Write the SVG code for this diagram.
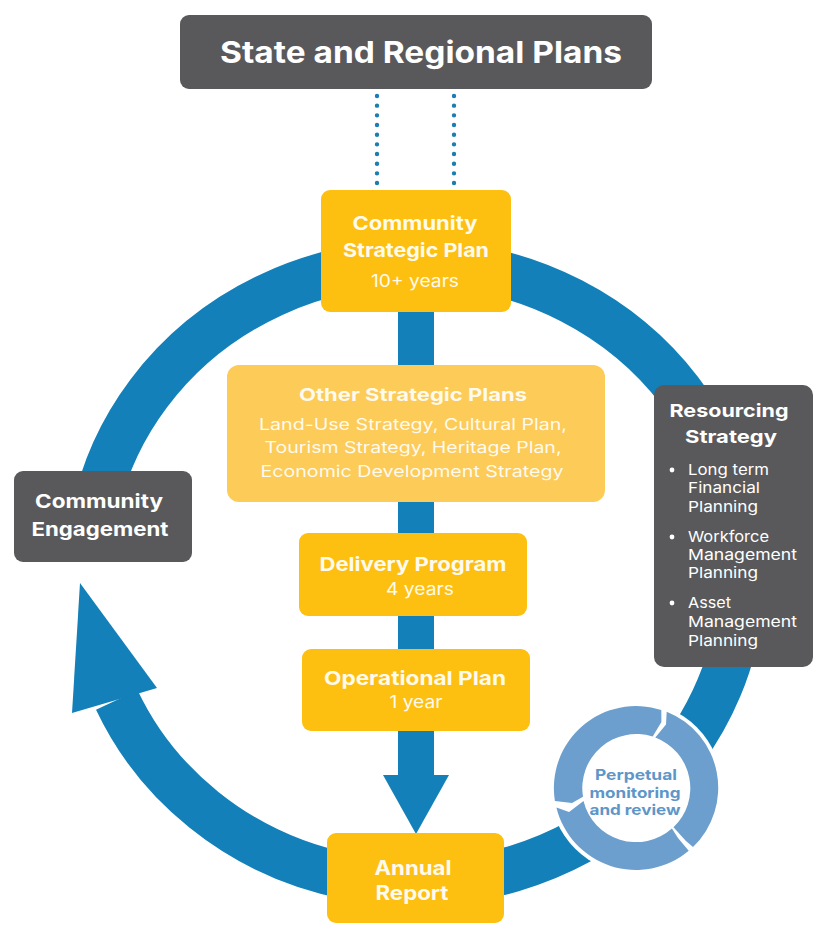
<svg xmlns="http://www.w3.org/2000/svg" width="836" height="939" viewBox="0 0 836 939">
<defs>
<style>
.t{font-family:Inter,"Open Sans","Liberation Sans",sans-serif;text-anchor:middle;}
.b{font-weight:700;}
.w{fill:#FFFAEE;}
.dark{fill:#59595B;}
.yel{fill:#FEC010;}
.lyel{fill:#FCCB58;}
.blue{fill:#1380B9;}
.pb{fill:#6C9FCD;}
.lst{font-family:Inter,"Open Sans","Liberation Sans",sans-serif;font-size:15px;fill:#FFFFFF;}
</style>
</defs>
<rect width="836" height="939" fill="#FFFFFF"/>

<g id="connectors">
  <path d="M 93 520 A 327 310 0 1 1 116.8 700" fill="none" stroke="#1380B9" stroke-width="46"/>
  <polygon class="blue" points="80,583 157,688 72,713"/>
  <rect class="blue" x="398" y="300" width="36" height="476"/>
  <polygon class="blue" points="383,775 449,775 416,834"/>
  <line x1="377" y1="96" x2="377" y2="184" stroke="#1C7DB0" stroke-width="4.4" stroke-linecap="round" stroke-dasharray="0 9.67"/>
  <line x1="454" y1="96" x2="454" y2="184" stroke="#1C7DB0" stroke-width="4.4" stroke-linecap="round" stroke-dasharray="0 9.67"/>
</g>

<g id="state-regional-plans">
  <rect class="dark" x="180" y="15" width="472" height="74" rx="9"/>
  <text class="t b" x="421" y="63" font-size="30" fill="#FFFFFF" textLength="402" lengthAdjust="spacingAndGlyphs">State and Regional Plans</text>
</g>

<g id="community-strategic-plan">
  <rect class="yel" x="321" y="190" width="190" height="122" rx="9"/>
  <text class="t b w" x="415" y="230" font-size="19" textLength="125" lengthAdjust="spacingAndGlyphs">Community</text>
  <text class="t b w" x="416" y="257" font-size="19" textLength="146" lengthAdjust="spacingAndGlyphs">Strategic Plan</text>
  <text class="t w" x="415" y="287" font-size="17" textLength="88" lengthAdjust="spacingAndGlyphs">10+ years</text>
</g>

<g id="other-strategic-plans">
  <rect class="lyel" x="227" y="365" width="378" height="137" rx="12"/>
  <text class="t b w" x="413" y="401" font-size="18" textLength="228" lengthAdjust="spacingAndGlyphs">Other Strategic Plans</text>
  <text class="t w" x="413" y="430" font-size="16" textLength="308" lengthAdjust="spacingAndGlyphs">Land-Use Strategy, Cultural Plan,</text>
  <text class="t w" x="413" y="453" font-size="16" textLength="297" lengthAdjust="spacingAndGlyphs">Tourism Strategy, Heritage Plan,</text>
  <text class="t w" x="412" y="477" font-size="16" textLength="303" lengthAdjust="spacingAndGlyphs">Economic Development Strategy</text>
</g>

<g id="delivery-program">
  <rect class="yel" x="299" y="533" width="228" height="83" rx="9"/>
  <text class="t b w" x="413" y="571" font-size="19" textLength="187" lengthAdjust="spacingAndGlyphs">Delivery Program</text>
  <text class="t w" x="420" y="595" font-size="17" textLength="68" lengthAdjust="spacingAndGlyphs">4 years</text>
</g>

<g id="operational-plan">
  <rect class="yel" x="302" y="649" width="228" height="82" rx="9"/>
  <text class="t b w" x="415" y="685" font-size="19" textLength="182" lengthAdjust="spacingAndGlyphs">Operational Plan</text>
  <text class="t w" x="416" y="708" font-size="17" textLength="53" lengthAdjust="spacingAndGlyphs">1 year</text>
</g>

<g id="annual-report">
  <rect class="yel" x="327" y="833" width="177" height="90" rx="9"/>
  <text class="t b w" x="413" y="875" font-size="20" textLength="77" lengthAdjust="spacingAndGlyphs">Annual</text>
  <text class="t b w" x="412" y="900" font-size="20" textLength="73" lengthAdjust="spacingAndGlyphs">Report</text>
</g>

<g id="community-engagement">
  <rect class="dark" x="14" y="471" width="178" height="91" rx="9"/>
  <text class="t b" x="99" y="508" font-size="19" fill="#FFFFFF" textLength="128" lengthAdjust="spacingAndGlyphs">Community</text>
  <text class="t b" x="100" y="536" font-size="19" fill="#FFFFFF" textLength="137" lengthAdjust="spacingAndGlyphs">Engagement</text>
</g>

<g id="resourcing-strategy">
  <rect class="dark" x="654" y="385" width="159" height="282" rx="10"/>
  <text class="t b" x="729" y="417" font-size="18" fill="#FFFFFF" textLength="119" lengthAdjust="spacingAndGlyphs">Resourcing</text>
  <text class="t b" x="731" y="443" font-size="18" fill="#FFFFFF" textLength="92" lengthAdjust="spacingAndGlyphs">Strategy</text>
  <circle cx="672" cy="470" r="2.4" fill="#FFFFFF"/>
  <circle cx="672" cy="537" r="2.4" fill="#FFFFFF"/>
  <circle cx="672" cy="603" r="2.4" fill="#FFFFFF"/>
  <text class="lst" x="688" y="475" textLength="81" lengthAdjust="spacingAndGlyphs">Long term</text>
  <text class="lst" x="688" y="493" textLength="72" lengthAdjust="spacingAndGlyphs">Financial</text>
  <text class="lst" x="688" y="512" textLength="70" lengthAdjust="spacingAndGlyphs">Planning</text>
  <text class="lst" x="688" y="542" textLength="81" lengthAdjust="spacingAndGlyphs">Workforce</text>
  <text class="lst" x="688" y="560" textLength="109" lengthAdjust="spacingAndGlyphs">Management</text>
  <text class="lst" x="688" y="578" textLength="70" lengthAdjust="spacingAndGlyphs">Planning</text>
  <text class="lst" x="688" y="608" textLength="43" lengthAdjust="spacingAndGlyphs">Asset</text>
  <text class="lst" x="688" y="627" textLength="109" lengthAdjust="spacingAndGlyphs">Management</text>
  <text class="lst" x="688" y="646" textLength="70" lengthAdjust="spacingAndGlyphs">Planning</text>
</g>

<g id="perpetual-monitoring">
  <circle cx="636" cy="788" r="86" fill="#FFFFFF"/>
  <path class="pb" d="M 666.7 711.7 A 82 82 0 0 1 693.0 847.0 L 685.7 840.8 L 673.5 827.3 A 54 54 0 0 0 655.3 737.6 L 666.0 724.6 Z"/>
  <path class="pb" d="M 688.7 850.8 A 82 82 0 0 1 556.4 807.5 L 569.1 812.0 L 583.5 801.0 A 54 54 0 0 0 671.9 828.4 L 678.0 838.0 Z"/>
  <path class="pb" d="M 554.9 800.9 A 82 82 0 0 1 661.3 710.1 L 661.4 722.0 L 652.7 736.6 A 54 54 0 0 0 583.0 796.8 L 572.0 803.0 Z"/>
  <text class="t b" x="636" y="780" font-size="14.5" fill="#5E96C9" textLength="82" lengthAdjust="spacingAndGlyphs">Perpetual</text>
  <text class="t b" x="635" y="797.5" font-size="14.5" fill="#5E96C9" textLength="91" lengthAdjust="spacingAndGlyphs">monitoring</text>
  <text class="t b" x="635" y="815" font-size="14.5" fill="#5E96C9" textLength="91" lengthAdjust="spacingAndGlyphs">and review</text>
</g>
</svg>
